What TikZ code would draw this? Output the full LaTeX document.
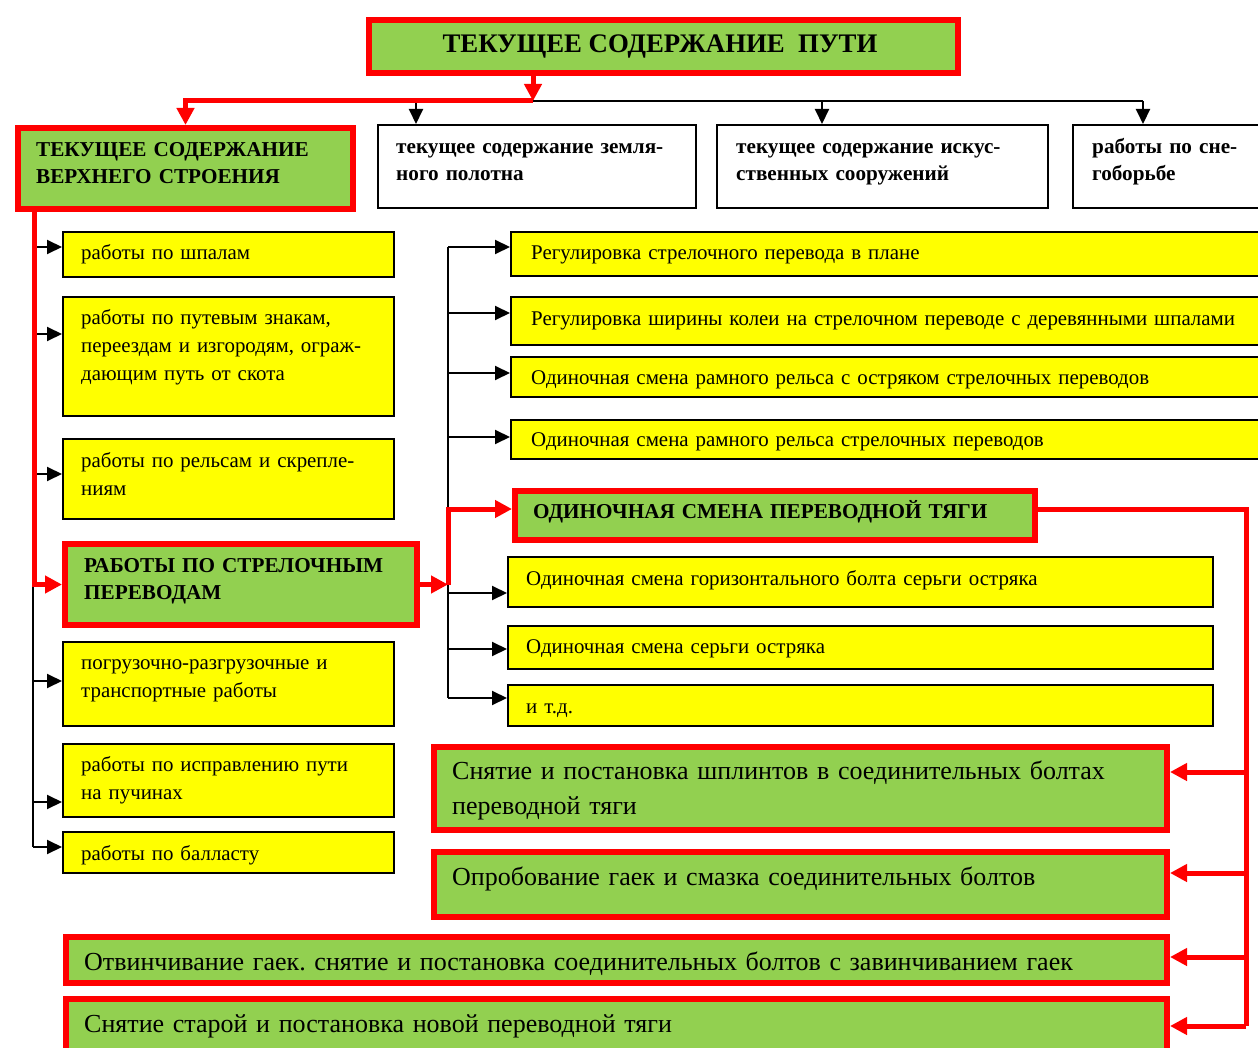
\documentclass[tikz,border=0pt]{standalone}
\usepackage{fontspec}
\setmainfont{Liberation Serif}
\usetikzlibrary{arrows.meta,calc}
\definecolor{lgreen}{HTML}{92D050}
\definecolor{ylw}{HTML}{FFFF00}
\definecolor{rd}{HTML}{FF0000}
\frenchspacing

% fonts: title, bold headings, yellow items, large green items
\newcommand\fT{\fontsize{26.8}{30}\selectfont\bfseries}
\newcommand\fB{\fontsize{21.2}{27.5}\selectfont\bfseries}
\newcommand\fY{\fontsize{20.9}{28}\selectfont}
\newcommand\fG{\fontsize{26}{35}\selectfont}

% box from corners (x1,y1)-(x2,y2) in picture pixels
\newcommand\mkbox[6]{%
  \node[#1, anchor=north west, inner sep=0pt,
        minimum width={#4-#2}, minimum height={#5-#3}] (#6) at (#2,#3) {};}
% horizontal connector from a trunk coordinate to a box side at height y
\newcommand\harrow[5]{%
  \coordinate (hy) at (0,#4);
  \draw[#1] (#2 |- hy) -- (#3.#5 |- hy);}

\begin{document}
\begin{tikzpicture}[x=1pt,y=-1pt,
  redbox/.style={draw=rd, line width=6pt, fill=lgreen},
  ybox/.style={draw=black, line width=2pt, fill=ylw},
  wbox/.style={draw=black, line width=2pt, fill=white},
  txt/.style={anchor=north west, inner sep=0pt, align=left, text width=#1},
  txt/.default=760pt,
  blk/.style={draw=black, line width=2pt},
  blka/.style={blk, -{Triangle[length=15pt,width=14pt]}},
  redc/.style={draw=rd, line width=5pt},
  reda/.style={redc, -{Triangle[length=17pt,width=17pt]}},
]
\useasboundingbox (0,0) rectangle (1258,1048);
\fill[white] (0,0) rectangle (1258,1048);
\clip (0,0) rectangle (1258,1048);

% ---------- boxes ----------
\mkbox{redbox}{366}{17}{955}{70}{top}
\mkbox{redbox}{15}{125}{350}{206}{vs}
\mkbox{wbox}{377}{124}{695}{207}{zp}
\mkbox{wbox}{716}{124}{1047}{207}{is}
\mkbox{wbox}{1072}{124}{1275}{207}{sn}

\mkbox{ybox}{62}{231}{393}{276}{a1}
\mkbox{ybox}{62}{296}{393}{415}{a2}
\mkbox{ybox}{62}{438}{393}{518}{a3}
\mkbox{redbox}{62}{541}{414}{622}{sp}
\mkbox{ybox}{62}{641}{393}{725}{a4}
\mkbox{ybox}{62}{743}{393}{816}{a5}
\mkbox{ybox}{62}{831}{393}{872}{a6}

\mkbox{ybox}{510}{231}{1275}{275}{b1}
\mkbox{ybox}{510}{296}{1275}{344}{b2}
\mkbox{ybox}{510}{356}{1275}{396}{b3}
\mkbox{ybox}{510}{419}{1275}{458}{b4}
\mkbox{redbox}{512}{488}{1032}{537}{ot}
\mkbox{ybox}{507}{556}{1212}{606}{c1}
\mkbox{ybox}{507}{625}{1212}{668}{c2}
\mkbox{ybox}{507}{684}{1212}{725}{c3}

\mkbox{redbox}{431}{744}{1164}{827}{d1}
\mkbox{redbox}{431}{849}{1164}{914}{d2}
\mkbox{redbox}{63}{934}{1164}{980}{d3}
\mkbox{redbox}{63}{996}{1164}{1062}{d4}

% ---------- texts ----------
\node[anchor=base, inner sep=0pt, font=\fT] (tt) at (660,53) {ТЕКУЩЕЕ СОДЕРЖАНИЕ\ \ ПУТИ};
\node[txt, font=\fB] (tvs) at (36,136.75) {\strut ТЕКУЩЕЕ СОДЕРЖАНИЕ\\ВЕРХНЕГО СТРОЕНИЯ};
\node[txt, font=\fB] (tzp) at (396,133.75) {\strut текущее содержание земля-\\ного полотна};
\node[txt, font=\fB] (tis) at (736,133.75) {\strut текущее содержание искус-\\ственных сооружений};
\node[txt, font=\fB] (tsn) at (1092,133.75) {\strut работы по сне-\\гоборьбе};

\node[txt, font=\fY] (ta1) at (81,239.4) {\strut работы по шпалам};
\node[txt, font=\fY] (ta2) at (81,304.4) {\strut работы по путевым знакам,\\переездам и изгородям, ограж-\\дающим путь от скота};
\node[txt, font=\fY] (ta3) at (81,447.4) {\strut работы по рельсам и скрепле-\\ниям};
\node[txt, font=\fB] (tsp) at (84,552.75) {\strut РАБОТЫ ПО СТРЕЛОЧНЫМ\\ПЕРЕВОДАМ};
\node[txt, font=\fY] (ta4) at (81,649.4) {\strut погрузочно-разгрузочные и\\транспортные работы};
\node[txt, font=\fY] (ta5) at (81,751.4) {\strut работы по исправлению пути\\на пучинах};
\node[txt, font=\fY] (ta6) at (81,840.4) {\strut работы по балласту};

\node[txt, font=\fY] (tb1) at (531,239.4) {\strut Регулировка стрелочного перевода в плане};
\node[txt, font=\fY] (tb2) at (531,305.4) {\strut Регулировка ширины колеи на стрелочном переводе с деревянными шпалами};
\node[txt, font=\fY] (tb3) at (531,364.4) {\strut Одиночная смена рамного рельса с остряком стрелочных переводов};
\node[txt, font=\fY] (tb4) at (531,426.4) {\strut Одиночная смена рамного рельса стрелочных переводов};
\node[txt, font=\fB] (tot) at (533,498.75) {\strut ОДИНОЧНАЯ СМЕНА ПЕРЕВОДНОЙ ТЯГИ};
\node[txt, font=\fY] (tc1) at (526,565.4) {\strut Одиночная смена горизонтального болта серьги остряка};
\node[txt, font=\fY] (tc2) at (526,633.4) {\strut Одиночная смена серьги остряка};
\node[txt, font=\fY] (tc3) at (526,693.4) {\strut и т.д.};

\node[txt, font=\fG] (td1) at (452,754.5) {\strut Снятие и постановка шплинтов в соединительных болтах\\переводной тяги};
\node[txt, font=\fG] (td2) at (452,860.5) {\strut Опробование гаек и смазка соединительных болтов};
\node[txt=1080pt, font=\fG] (td3) at (84,945.5) {\strut Отвинчивание гаек. снятие и постановка соединительных болтов с завинчиванием гаек};
\node[txt, font=\fG] (td4) at (84,1007.5) {\strut Снятие старой и постановка новой переводной тяги};

% ---------- connectors: top level ----------
\coordinate (j0) at (533,101);
\coordinate (k2) at (416,101);
\coordinate (k3) at (822,101);
\coordinate (k4) at (1143,101);
\draw[blk] (j0) -- (k4);
\draw[blka] (k2) -- (k2 |- zp.north);
\draw[blka] (k3) -- (k3 |- is.north);
\draw[blka] (k4) -- (k4 |- sn.north);
\draw[reda] (top.south -| j0) -- (j0);
\draw[reda] (j0) -| (vs.north);

% ---------- left trunk ----------
\coordinate (L) at (34,0);
\coordinate (L2) at (33,0);
\coordinate (lb) at (0,847);
\draw[blk] (L2 |- sp.west) -- (L2 |- lb);
\harrow{blka}{L}{a1}{247}{west}
\harrow{blka}{L}{a2}{334}{west}
\harrow{blka}{L}{a3}{474}{west}
\harrow{blka}{L2}{a4}{681}{west}
\harrow{blka}{L2}{a5}{802}{west}
\harrow{blka}{L2}{a6}{847}{west}
\draw[reda] (vs.south -| L) |- (sp.west);

% ---------- middle trunk ----------
\coordinate (R) at (448,0);
\coordinate (rt) at (0,247);
\coordinate (rb) at (0,698);
\draw[blk] (R |- rt) -- (R |- rb);
\harrow{blka}{R}{b1}{247}{west}
\harrow{blka}{R}{b2}{313}{west}
\harrow{blka}{R}{b3}{373}{west}
\harrow{blka}{R}{b4}{437}{west}
\harrow{blka}{R}{c1}{593}{west}
\harrow{blka}{R}{c2}{649}{west}
\harrow{blka}{R}{c3}{698}{west}
\draw[reda] (sp.east) -- (R |- sp.east);
\coordinate (m1) at (0,509);
\draw[reda] (R |- sp.east) -- (R |- m1) -- (ot.west |- m1);

% ---------- right trunk ----------
\coordinate (X) at (1246,0);
\coordinate (xb) at (0,1026);
\draw[redc] (ot.east |- m1) -| (X |- xb);
\harrow{reda}{X}{d1}{772}{east}
\harrow{reda}{X}{d2}{873}{east}
\harrow{reda}{X}{d3}{957}{east}
\harrow{reda}{X}{d4}{1026}{east}
\end{tikzpicture}
\end{document}
